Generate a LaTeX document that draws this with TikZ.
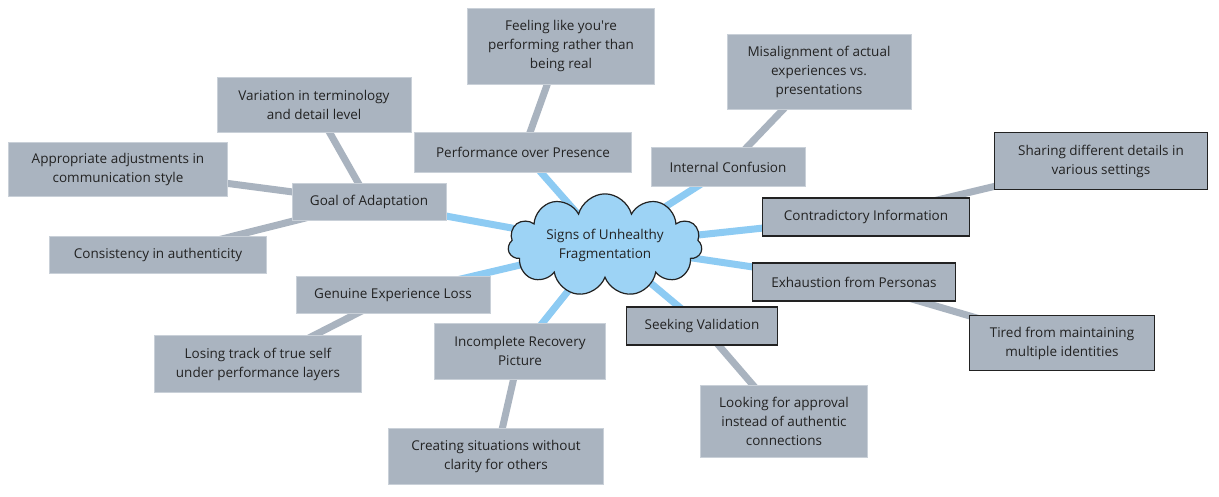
\documentclass[tikz,border=0pt]{standalone}
\usepackage{fontspec}
\setmainfont{Open Sans}
\usetikzlibrary{shapes.symbols,backgrounds}
\definecolor{boxfill}{HTML}{AAB4C0}
\definecolor{boxedge}{HTML}{C9D0D8}
\definecolor{linkgray}{HTML}{A9B3BF}
\definecolor{linkblue}{HTML}{8DCBF3}
\definecolor{cloudfill}{HTML}{9DD3F5}
\definecolor{ink}{HTML}{222222}
\tikzset{
  leaf/.style={rectangle, fill=boxfill, draw=boxedge, line width=0.8pt, text=ink,
    align=center, font=\fontsize{13.5}{19}\selectfont, inner sep=2pt},
  darkleaf/.style={leaf, draw=ink, line width=1.1pt},
  hub/.style={cloud, cloud puffs=11, aspect=2.4, fill=cloudfill, draw=ink, line width=1.2pt,
    text=ink, align=center, font=\fontsize{13.5}{19}\selectfont, inner sep=0pt},
  bluelink/.style={linkblue, line width=7pt},
  graylink/.style={linkgray, line width=7pt},
}
\begin{document}
\begin{tikzpicture}[x=1pt,y=-1pt]
\useasboundingbox (0,0) rectangle (1219,496);
\node[hub, minimum width=194pt, minimum height=84pt] (c) at (605,245) {Signs of Unhealthy\\Fragmentation};

\node[leaf, minimum width=217pt, minimum height=40pt] (perf) at (523,152) {Performance over Presence};
\node[leaf, minimum width=187pt, minimum height=76pt] (feel) at (561,46) {Feeling like you\textquotesingle re\\performing rather than\\being real};
\node[leaf, minimum width=154pt, minimum height=39pt] (conf) at (728,167) {Internal Confusion};
\node[leaf, minimum width=184pt, minimum height=75pt] (mis) at (819,72) {Misalignment of actual\\experiences vs.\\presentations};
\node[darkleaf, minimum width=207pt, minimum height=38pt] (contra) at (866,217) {Contradictory Information};
\node[darkleaf, minimum width=213pt, minimum height=57pt] (share) at (1101,161) {Sharing different details in\\various settings};
\node[darkleaf, minimum width=203pt, minimum height=38pt] (exh) at (854,282) {Exhaustion from Personas};
\node[darkleaf, minimum width=185pt, minimum height=55pt] (tired) at (1062,343) {Tired from maintaining\\multiple identities};
\node[darkleaf, minimum width=151pt, minimum height=38pt] (seek) at (702,326) {Seeking Validation};
\node[leaf, minimum width=167pt, minimum height=72pt] (look) at (784,421) {Looking for approval\\instead of authentic\\connections};
\node[leaf, minimum width=171pt, minimum height=56pt] (inc) at (520,351) {Incomplete Recovery\\Picture};
\node[leaf, minimum width=215pt, minimum height=56pt] (crea) at (496,456) {Creating situations without\\clarity for others};
\node[leaf, minimum width=194pt, minimum height=37pt] (gen) at (393,295) {Genuine Experience Loss};
\node[leaf, minimum width=207pt, minimum height=57pt] (lose) at (258,364) {Losing track of true self\\under performance layers};
\node[leaf, minimum width=154pt, minimum height=37pt] (goal) at (369,202) {Goal of Adaptation};
\node[leaf, minimum width=194pt, minimum height=55pt] (var) at (314,105) {Variation in terminology\\and detail level};
\node[leaf, minimum width=219pt, minimum height=54pt] (appr) at (118,169) {Appropriate adjustments in\\communication style};
\node[leaf, minimum width=217pt, minimum height=37pt] (cons) at (158,255) {Consistency in authenticity};

\begin{scope}[on background layer]
\fill[white] (0,0) rectangle (1219,496);
\foreach \n in {perf,conf,contra,exh,seek,inc,gen,goal}
  \draw[bluelink] (c.center) -- (\n.center);
\draw[graylink] (perf.center) -- (feel.center);
\draw[graylink] (conf.center) -- (mis.center);
\draw[graylink] (contra.center) -- (share.center);
\draw[graylink] (exh.center) -- (tired.center);
\draw[graylink] (seek.center) -- (look.center);
\draw[graylink] (inc.center) -- (crea.center);
\draw[graylink] (gen.center) -- (lose.center);
\draw[graylink] (goal.center) -- (var.center);
\draw[graylink] (goal.center) -- (appr.center);
\draw[graylink] (goal.center) -- (cons.center);
\end{scope}
\end{tikzpicture}
\end{document}
